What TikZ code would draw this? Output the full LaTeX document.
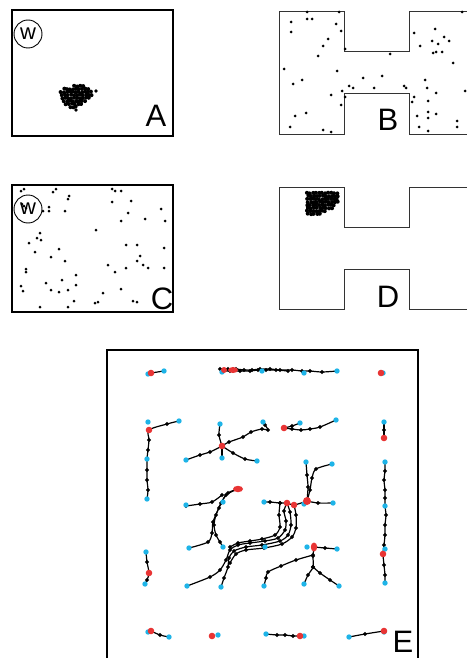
\documentclass[tikz,border=0pt]{standalone}
\usepackage{fontspec}
\setmainfont{Liberation Sans}
\definecolor{agentblue}{RGB}{30,180,232}
\definecolor{agentred}{RGB}{232,52,52}
\newcommand\etrail[1]{\draw[trace] plot[smooth, tension=0.5, mark=*, mark size=1.2pt, mark options={fill=black}] coordinates {#1};}
\begin{document}
\begin{tikzpicture}[x=1pt,y=-1pt,
  panel/.style={line width=1.6pt, black},
  wall/.style={line width=1pt, black!80, line join=miter},
  trace/.style={line width=1.2pt, black},
  lbl/.style={font=\fontsize{31}{31}\selectfont, inner sep=0pt, anchor=base},
  wmark/.style={circle, draw, line width=0.9pt, minimum size=28pt, inner sep=0pt, font=\fontsize{22}{22}\selectfont}]
\useasboundingbox (0,0) rectangle (466,658);
\pgfmathsetseed{7}

% ---------- panel A ----------
\draw[panel] (12,10) rectangle (173,136);
\node[wmark] (wa) at (28,34) {w};
\node[lbl] (la) at (156,126) {A};
\foreach \y/\a/\n in {86/74/4, 89/64/9, 92/61/11, 95/62/11, 98/62/10, 101/64/8, 104/66/6, 107/70/3}
  \foreach \i in {1,...,\n}
    \fill (\a+3*\i-3+0.5*rand, \y+0.5*rand) circle[radius=2pt];
\fill (96,91) circle[radius=1.8pt];
\fill (76,110) circle[radius=1.8pt];

% ---------- panel B ----------
\draw[wall] (467,12) -- (409,12) -- (409,52) -- (344,52) -- (344,12) -- (279,12)
  -- (279,134) -- (344,134) -- (344,94) -- (409,94) -- (409,134) -- (467,134);
\node[lbl] (lb) at (388,131) {B};
\foreach \p in {(307,12),(339,12),(291,22),(307,19),(312,19),(336,24),(291,32),(341,31),
  (328,39),(323,46),(345,49),(318,56),(284,69),(337,71),(302,80),(293,84),(390,54),
  (363,78),(382,76),(349,86),(353,88),(374,88),(404,86),(406,88),(342,91),(331,95),
  (341,105),(345,97),(306,113),(295,116),(290,127),(323,130),(331,132),
  (414,33),(435,29),(432,41),(438,44),(444,37),(449,41),(420,46),(433,53),(436,52),
  (442,52),(453,63),(462,12),(425,80),(427,88),(436,93),(465,91),(414,97),(412,102),
  (428,101),(417,116),(428,112),(428,118),(436,114),(419,127),(428,131),(457,121),(457,127)}
  \fill \p circle[radius=1.5pt];

% ---------- panel C ----------
\draw[panel] (12,185) rectangle (173,312);
\node[wmark] (wc) at (28,209) {w};
\node[lbl] (lc) at (162,309) {C};
\foreach \p in {(21,191),(24,189),(53,192),(56,189),(68,199),(69,196),(112,189),(115,191),
  (121,191),(112,202),(131,201),(161,209),(128,213),(121,221),(145,219),(165,221),
  (49,207),(49,211),(43,211),(65,211),(22,204),(24,206),(26,208),
  (96,230),(40,233),(37,238),(41,240),(29,243),(59,249),(35,252),(51,257),(65,261),
  (126,245),(137,245),(164,248),(140,256),(137,261),(143,265),(148,268),(164,268),
  (108,265),(115,272),(126,268),(26,269),(26,272),(76,275),(62,280),(46,283),(76,285),
  (21,286),(23,291),(51,290),(59,292),(68,290),(121,289),(103,293),(74,301),(95,303),
  (98,302),(133,301),(137,302),(40,307),(68,307)}
  \fill \p circle[radius=1.5pt];

% ---------- panel D ----------
\draw[wall] (467,187) -- (409,187) -- (409,227) -- (344,227) -- (344,187) -- (279,187)
  -- (279,309) -- (344,309) -- (344,269) -- (409,269) -- (409,309) -- (467,309);
\node[lbl] (ld) at (388,307) {D};
\foreach \y/\a/\n in {193/307/11, 196/308/11, 199/307/11, 202/308/11, 205/307/10, 208/308/9, 211/307/7, 214/308/5}
  \foreach \i in {1,...,\n}
    \fill (\a+3*\i-3+0.4*rand, \y+0.4*rand) circle[radius=2pt];

% ---------- panel E ----------
\draw[panel] (107,662) -- (107,350) -- (418,350) -- (418,662);
\node[lbl] (le) at (403,652) {E};

% paths walked by the agents
\etrail{(151,373) (164,371)}
\etrail{(220,369) (228,369) (236,369) (244,370) (252,370) (260,369) (270,369) (280,370) (292,370) (302,371) (310,371) (322,372) (337,371)}
\etrail{(222,371) (230,371) (240,371) (250,371) (258,370) (266,370) (276,370) (288,371)}
\etrail{(179,421) (167,424) (149,430) (149,440) (148,450) (147,459) (147,470) (147,480) (148,490) (147,499)}
\etrail{(220,424) (219,435) (222,446)}
\etrail{(186,460) (200,455) (210,452) (222,446)}
\etrail{(222,446) (222,458)}
\etrail{(222,446) (233,453) (245,459) (257,461)}
\etrail{(222,446) (229,442) (243,437) (251,432) (262,429) (268,430) (265,425) (263,422)}
\etrail{(284,428) (292,429) (301,430) (310,429) (320,427) (336,420)}
\etrail{(284,428) (292,426) (300,423)}
\etrail{(384,422) (384,430) (384,438)}
\etrail{(238,489) (228,493) (221,503) (216,515) (214,525) (216,535) (220,542) (223,547)}
\etrail{(238,489) (226,495) (219,508) (213,522) (212,533) (208,542) (189,548)}
\etrail{(186,506) (200,504) (212,502) (222,495)}
\etrail{(264,502) (270,502) (280,503) (287,503) (294,505) (307,501)}
\etrail{(287,503) (284,511) (286,521) (285,530) (278,538) (265,541) (250,543) (238,545) (230,550) (226,560) (220,570) (210,577) (187,586)}
\etrail{(287,503) (290,512) (291,525) (288,535) (280,541) (262,545) (246,547) (234,551) (229,558) (228,567) (224,578) (221,587)}
\etrail{(294,505) (296,515) (296,528) (292,537) (282,544) (264,548) (246,550) (236,554) (230,563)}
\etrail{(280,503) (279,515) (280,527) (275,535) (262,539) (250,541) (238,543) (230,547)}
\etrail{(306,462) (307,475) (308,487) (307,501)}
\etrail{(332,464) (316,469) (312,478) (310,490) (307,501)}
\etrail{(307,501) (318,503) (333,503)}
\etrail{(385,462) (385,471) (384,480) (385,490) (385,498) (385,506) (386,515) (385,525) (385,535) (384,545) (383,554) (384,565) (385,575) (385,583)}
\etrail{(314,547) (325,548) (337,549)}
\etrail{(314,547) (313,556) (313,567) (308,575) (304,584)}
\etrail{(313,567) (320,573) (330,580) (339,586)}
\etrail{(264,586) (266,578) (268,572) (281,566) (296,560) (313,555)}
\etrail{(146,552) (147,562) (149,573) (147,580) (145,584)}
\etrail{(151,631) (160,635) (169,637)}
\etrail{(266,634) (277,635) (285,635) (293,636) (300,636)}
\etrail{(349,637) (365,634) (384,631)}

% agents at their goals and start points
\foreach \p in {(148,374),(164,371),(222,372),(262,371),(304,373),(337,371),(383,373),
  (148,422),(179,421),(220,424),(263,422),(300,423),(336,420),(384,422),
  (147,459),(186,460),(222,458),(257,461),(306,462),(332,464),(385,462),
  (147,499),(186,505),(223,502),(264,502),(304,504),(333,503),(385,506),
  (146,552),(189,548),(223,547),(265,547),(307,547),(337,549),(385,549),
  (145,584),(187,586),(221,587),(264,586),(304,584),(339,586),(385,583),
  (148,632),(169,637),(218,635),(266,634),(304,636),(349,637),(384,632)}
  \fill[agentblue] \p circle[radius=2.7pt];
\foreach \p in {(151,373),(381,373),(149,430),(222,446),(284,428),(384,438),
  (287,503),(294,505),(383,554),(149,573),(151,631),(212,636),(300,636),(384,631)}
  \fill[agentred] \p circle[radius=3.3pt];
\fill[agentred] (224,370) circle[radius=3pt];
\fill[agentred] (233,370) ellipse[x radius=5pt, y radius=3pt];
\fill[agentred] (238,489) ellipse[x radius=5pt, y radius=3.2pt];
\fill[agentred] (307,501) circle[radius=4pt];
\fill[agentred] (314,547) ellipse[x radius=3.2pt, y radius=4.5pt];
\end{tikzpicture}
\end{document}
